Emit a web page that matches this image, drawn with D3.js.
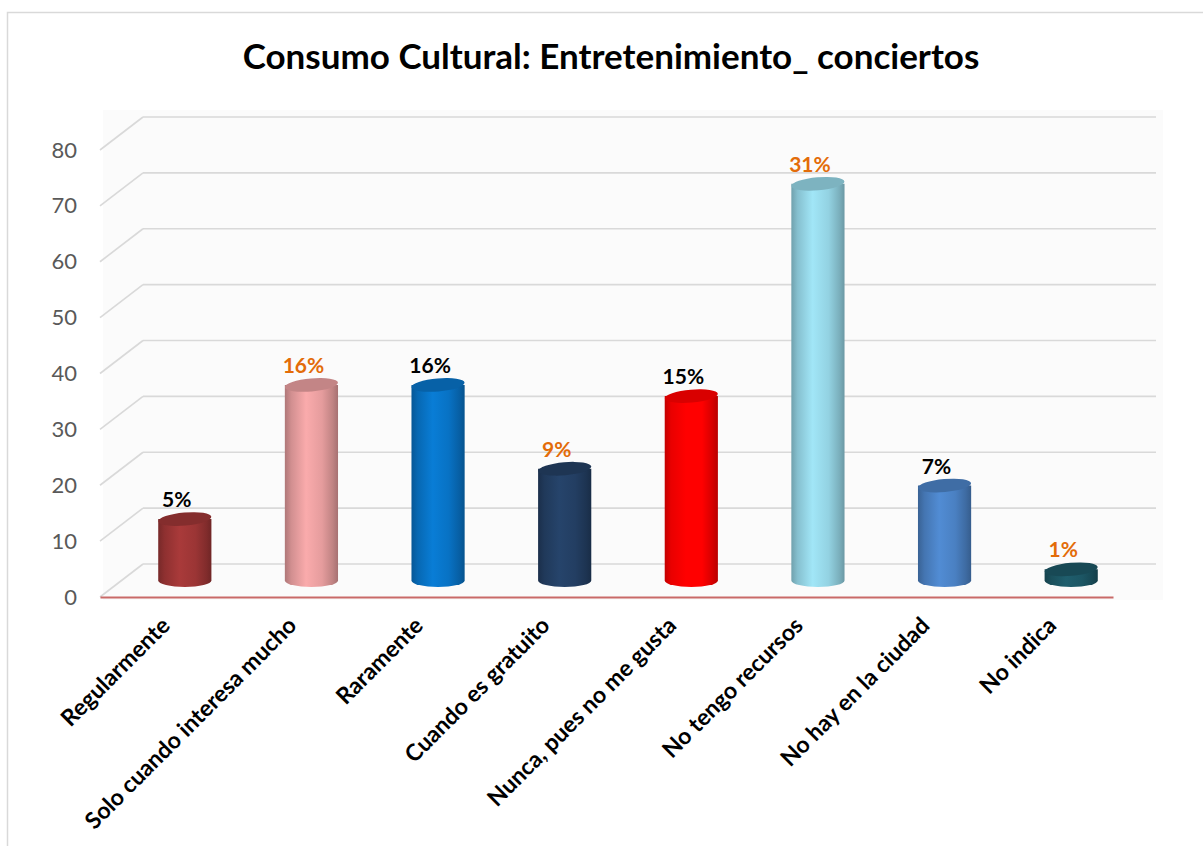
<!DOCTYPE html>
<html>
<head>
<meta charset="utf-8">
<script src="https://cdn.jsdelivr.net/npm/d3@7"></script>
<style>
  html, body { margin: 0; padding: 0; background: #ffffff; }
  svg { display: block; }
</style>
</head>
<body>
<svg id="chart" width="1203" height="846"></svg>
<script>
// Survey answers and counts
const categories = [
  "Regularmente",
  "Solo cuando interesa mucho",
  "Raramente",
  "Cuando es gratuito",
  "Nunca, pues no me gusta",
  "No tengo recursos",
  "No hay en la ciudad",
  "No indica"
];
const values = [11, 35, 35, 20, 33, 71, 17, 2];
const percentLabels = ["5%", "16%", "16%", "9%", "15%", "31%", "7%", "1%"];
const yTicks = [0, 10, 20, 30, 40, 50, 60, 70, 80];
const titleText = "Consumo Cultural: Entretenimiento_ conciertos";

// Styling
const barColors = ["#9b3535", "#e59c9d", "#0872c4", "#233e62", "#ff0000", "#93d2e2", "#4a80c2", "#1c5664"];
const labelColors = ["#000000", "#e36c09", "#000000", "#e36c09", "#000000", "#e36c09", "#000000", "#e36c09"];

const svg = d3.select("#chart");
const W = 1203, H = 846;
const FONT = "Lato, 'Open Sans', sans-serif";

// Plot geometry: front plane, plus a depth offset for the 3D walls
const frontLeft = 100, frontRight = 1113, floorY = 597, plotH = 447;
const depth = { dx: 43, dy: -33 };

const x = d3.scaleBand().domain(categories).range([frontLeft, frontRight]);
const y = d3.scaleLinear().domain([0, 80]).range([floorY, floorY - plotH]);

// Outer chart border
svg.append("rect")
  .attr("x", 7.5).attr("y", 12.5)
  .attr("width", W + 10).attr("height", H + 10)
  .attr("fill", "#ffffff")
  .attr("stroke", "#d9d9d9").attr("stroke-width", 1.5);

// Faint wall backdrop
svg.append("rect")
  .attr("x", frontLeft + 3).attr("y", y(80) + depth.dy - 7)
  .attr("width", frontRight + depth.dx + 7 - frontLeft - 3)
  .attr("height", floorY + 3 - (y(80) + depth.dy - 7))
  .attr("fill", "#fbfbfb");

// Title
svg.append("text")
  .attr("x", 611).attr("y", 69)
  .attr("text-anchor", "middle")
  .attr("font-family", FONT)
  .attr("font-weight", 700)
  .attr("font-size", 35)
  .attr("fill", "#000")
  .text(titleText);

// Gridlines: back wall and left side wall
const grid = svg.append("g").attr("stroke", "#d9d9d9").attr("stroke-width", 1.6).attr("fill", "none");
grid.selectAll("line.back")
  .data(yTicks)
  .join("line")
  .attr("class", "back")
  .attr("x1", frontLeft + depth.dx).attr("x2", frontRight + depth.dx)
  .attr("y1", d => y(d) + depth.dy).attr("y2", d => y(d) + depth.dy);
grid.selectAll("line.side")
  .data(yTicks)
  .join("line")
  .attr("class", "side")
  .attr("x1", frontLeft).attr("x2", frontLeft + depth.dx)
  .attr("y1", d => y(d)).attr("y2", d => y(d) + depth.dy);

// Y axis labels on the front plane
const yAxis = d3.axisLeft(y).tickValues(yTicks).tickSize(0).tickPadding(0);
const yG = svg.append("g")
  .attr("transform", `translate(${frontLeft - 23},0)`)
  .call(yAxis);
yG.select(".domain").remove();
yG.selectAll("text")
  .attr("font-family", FONT)
  .attr("font-size", 22)
  .attr("fill", "#595959");

// Category axis with the floor front edge as its domain line
const xAxis = d3.axisBottom(x).tickSize(0).tickSizeOuter(0).tickPadding(0);
const xG = svg.append("g")
  .attr("transform", `translate(0,${floorY})`)
  .call(xAxis);
xG.select(".domain").attr("stroke", "#c0504d").attr("stroke-width", 2.2).attr("stroke-opacity", 0.85);
xG.selectAll(".tick text")
  .attr("font-family", FONT)
  .attr("font-weight", 700)
  .attr("font-size", 23)
  .attr("fill", "#000")
  .attr("text-anchor", "end")
  .attr("dy", 0)
  .attr("transform", "translate(8,30) rotate(-45)");

// Cylinder gradients
const defs = svg.append("defs");
barColors.forEach((c, i) => {
  const g = defs.append("linearGradient")
    .attr("id", "cyl" + i)
    .attr("x1", "0%").attr("x2", "100%").attr("y1", "0%").attr("y2", "0%");
  const base = d3.color(c);
  [[0, base.darker(0.75)], [0.12, base.darker(0.25)], [0.4, base.brighter(0.25)],
   [0.7, base], [0.9, base.darker(0.5)], [1, base.darker(0.9)]].forEach(([o, col]) => {
    g.append("stop").attr("offset", o).attr("stop-color", col.formatHex());
  });
});

// Cylinders sit at mid-depth of the floor
const rx = x.bandwidth() * 0.21, ry = 6.5;
const cx = d => x(d) + x.bandwidth() / 2 + depth.dx / 2;
const baseY = y(0) + depth.dy / 2;
const topY = v => y(v) + depth.dy / 2;

const bars = svg.append("g").selectAll("g.bar")
  .data(categories.map((c, i) => ({ c, v: values[i], i })))
  .join("g").attr("class", "bar");

bars.append("path")
  .attr("d", d => {
    const c = cx(d.c), t = topY(d.v);
    return `M${c - rx},${t} L${c - rx},${baseY} A${rx},${ry} 0 0 0 ${c + rx},${baseY} L${c + rx},${t} Z`;
  })
  .attr("fill", d => `url(#cyl${d.i})`);

bars.append("ellipse")
  .attr("cx", d => cx(d.c))
  .attr("cy", d => topY(d.v))
  .attr("rx", rx).attr("ry", ry)
  .attr("transform", d => `rotate(-5,${cx(d.c)},${topY(d.v)})`)
  .attr("fill", d => d3.color(barColors[d.i]).darker(0.45).formatHex());

// Percentage labels above each cylinder
bars.append("text")
  .attr("x", d => cx(d.c) - 8)
  .attr("y", d => topY(d.v) - 12)
  .attr("text-anchor", "middle")
  .attr("font-family", FONT)
  .attr("font-weight", 700)
  .attr("font-size", 21)
  .attr("fill", d => labelColors[d.i])
  .text(d => percentLabels[d.i]);
</script>
</body>
</html>
